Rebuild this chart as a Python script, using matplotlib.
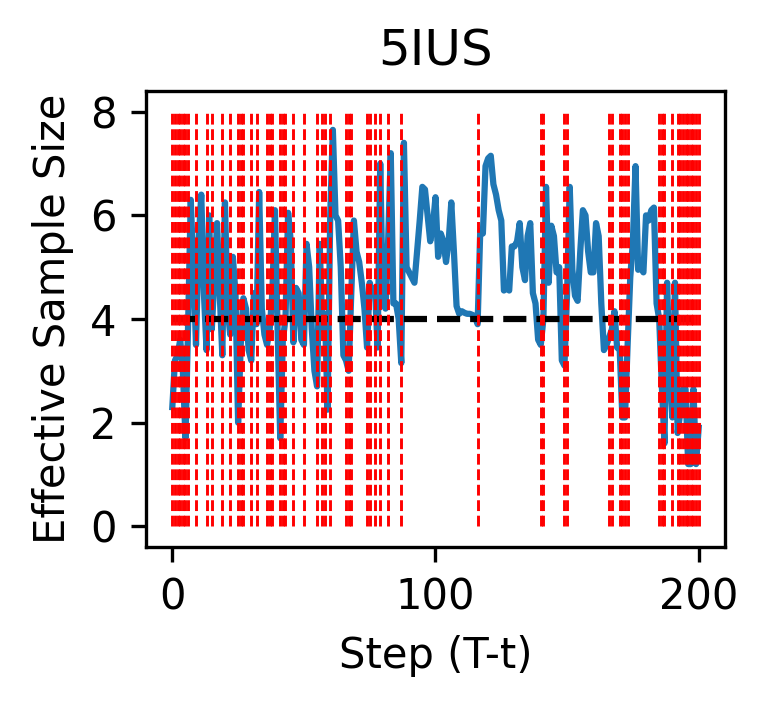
import numpy as np
import matplotlib
matplotlib.use('Agg')
import matplotlib.pyplot as plt

title = '5IUS'
threshold = 4
n_particles = 8

# effective sample size per step
ess = [
    2.3, 3.2, 3.3, 3.6, 3.0, 1.7, 3.9, 6.3, 5.0, 3.5,
    5.5, 6.4, 4.5, 3.4, 6.0, 3.8, 4.8, 5.85, 4.5, 3.3,
    6.25, 4.2, 3.7, 5.2, 4.5, 2.0, 3.5, 4.4, 4.2, 3.4,
    3.2, 4.5, 3.9, 6.45, 4.2, 3.7, 3.5, 3.8, 4.5, 6.1,
    3.8, 1.7, 3.6, 4.0, 6.05, 5.5, 3.55, 4.6, 4.5, 3.6,
    3.5, 5.45, 5.0, 3.8, 3.0, 2.7, 5.45, 3.8, 4.1, 2.25,
    6.0, 7.65, 6.0, 5.9, 5.0, 3.3, 3.2, 3.0, 4.5, 5.9,
    5.3, 5.1, 4.7, 4.2, 3.45, 4.7, 4.5, 4.6, 3.45, 7.0,
    4.3, 4.2, 5.5, 7.2, 4.3, 4.3, 4.0, 3.15, 7.4, 5.0,
    4.9, 4.8, 4.7, 5.3, 5.9, 6.55, 6.5, 6.0, 5.5, 5.8,
    6.35, 5.2, 5.65, 5.5, 5.1, 5.5, 6.25, 5.3, 4.25, 4.1,
    4.15, 4.12, 4.1, 4.1, 4.08, 4.05, 3.9, 5.7, 5.65, 6.95,
    7.1, 7.15, 6.6, 6.4, 6.1, 5.9, 4.55, 4.6, 4.55, 5.4,
    5.4, 5.5, 5.85, 5.0, 4.75, 5.6, 5.85, 4.5, 4.3, 3.6,
    3.5, 4.0, 6.55, 4.7, 5.8, 5.6, 4.9, 5.0, 3.2, 3.1,
    4.5, 6.55, 4.95, 4.45, 4.35, 5.3, 6.1, 6.0, 5.3, 4.9,
    4.9, 5.85, 5.6, 4.3, 3.4, 3.5, 3.65, 3.8, 4.15, 3.45,
    3.4, 2.1, 2.1, 3.5, 4.8, 5.5, 6.95, 4.95, 5.0, 4.9,
    6.0, 5.9, 6.1, 6.15, 4.3, 4.0, 2.7, 1.6, 4.7, 3.0,
    2.1, 4.7, 1.8, 2.2, 2.65, 2.65, 1.2, 1.2, 2.65, 1.2,
    1.9,
]

# steps where resampling happened
resample_steps = [
    0, 1, 2, 3, 4, 5, 6, 9, 13, 15, 19, 22, 25, 26, 27, 30, 32,
    36, 37, 38, 41, 42, 43, 46, 50, 55, 57, 58, 60, 66, 67, 68,
    74, 75, 77, 79, 82, 87, 116, 140, 141, 149, 150, 166, 167,
    170, 171, 172, 173, 185, 186, 187, 190,
    192, 193, 194, 195, 196, 197, 198, 199, 200,
]

steps = np.arange(len(ess))

fig = plt.figure(figsize=(766 / 300, 705 / 300), dpi=300)
ax = fig.add_axes([146 / 766, 1 - 547 / 705, (725 - 146) / 766, (547 - 91) / 705])

ax.plot(steps, ess)
ax.hlines(threshold, 0, steps[-1], colors='k', linestyles='--')
ax.vlines(resample_steps, 0, n_particles, colors='r', linestyles='--', linewidth=0.7)

ax.set_title(title)
ax.set_xlabel('Step (T-t)')
ax.set_ylabel('Effective Sample Size')
ax.set_xticks([0, 100, 200])
ax.set_yticks([0, 2, 4, 6, 8])

fig.savefig('out.png', dpi=300)
